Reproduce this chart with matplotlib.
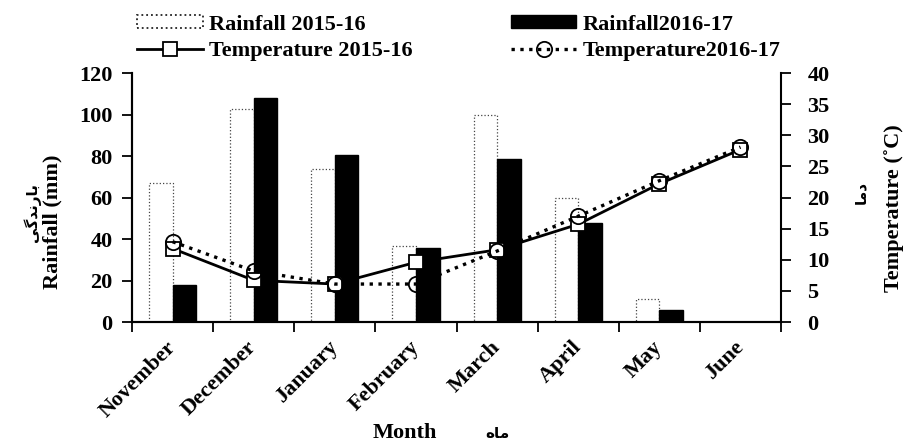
import numpy as np
import matplotlib.pyplot as plt
from matplotlib.patches import Patch
from matplotlib.lines import Line2D

plt.rcParams['font.family'] = ['Liberation Serif', 'DejaVu Serif']
plt.rcParams['font.weight'] = 'bold'

months = ['November', 'December', 'January', 'February', 'March', 'April', 'May', 'June']
rain_1516 = [67, 102.5, 73.5, 36.5, 100, 60, 11, 0]
rain_1617 = [18, 108, 80.5, 35.5, 78.5, 47.5, 6, 0]
temp_1516 = [11.8, 6.7, 6.1, 9.6, 11.6, 15.7, 22.2, 27.7]
temp_1617 = [12.9, 8.2, 6.1, 6.1, 11.4, 17.0, 22.7, 28.1]

# Persian labels written in contextual (presentation) forms, visual order
fa_rain = '\ufbfd\ufb94\ufeaa\ufee7\ufead\ufe8e\ufe91'   # barandegi
fa_temp = '\ufe8e\ufee3\ufea9'                           # dama
fa_month = '\ufee9\ufe8e\ufee3'                          # mah

x = np.arange(len(months)) + 0.5
w = 0.29
fs = 16

fig = plt.figure(figsize=(9.08, 4.43), dpi=100)
ax = fig.add_axes([0.1454, 0.2731, 0.7148, 0.5621])
ax2 = ax.twinx()

ax.bar(x - w / 2, rain_1516, w, facecolor='white', edgecolor='#444444',
       linewidth=0.9, linestyle=':', zorder=2)
ax.bar(x + w / 2, rain_1617, w, facecolor='black', edgecolor='black', zorder=2)

ax2.plot(x, temp_1516, '-', color='black', lw=2, marker='s', ms=10,
         mfc='white', mec='black', mew=1.3, zorder=3)
ax2.plot(x, temp_1617, ':', color='black', lw=2.4, marker='o', ms=11,
         mfc='none', mec='black', mew=1.3, zorder=4)

ax.set_xlim(0, 8)
ax.set_ylim(0, 120)
ax.set_yticks(np.arange(0, 121, 20))
ax2.set_ylim(0, 40)
ax2.set_yticks(np.arange(0, 41, 5))

ax.set_xticks(x)
ax.set_xticklabels(months, rotation=45, ha='right', va='center', rotation_mode='anchor')
ax.set_xticks(np.arange(0, 9), minor=True)
ax.tick_params(axis='x', which='major', length=0, pad=16, labelsize=fs)
ax.tick_params(axis='x', which='minor', length=7, width=1.3, direction='out')
ax.tick_params(axis='y', length=7, width=1.3, direction='out', labelsize=fs, pad=7)
ax2.tick_params(axis='y', length=7, width=1.3, direction='out', labelsize=fs, pad=12)

for a in (ax, ax2):
    a.spines['top'].set_visible(False)
    for s in ('left', 'right', 'bottom'):
        a.spines[s].set_linewidth(1.5)
ax.spines['right'].set_visible(False)

# axis titles
fig.text(0.058, 0.50, 'Rainfall (mm)', rotation=90, ha='center', va='center', fontsize=fs)
fig.text(0.035, 0.52, fa_rain, rotation=90, ha='center', va='center', fontsize=11,
         family=['DejaVu Sans'])
fig.text(0.985, 0.53, 'Temperature (\u02daC)', rotation=90, ha='center', va='center', fontsize=fs)
fig.text(0.948, 0.565, fa_temp, rotation=90, ha='center', va='center', fontsize=11,
         family=['DejaVu Sans'])
fig.text(0.446, 0.022, 'Month', ha='center', va='center', fontsize=fs)
fig.text(0.548, 0.022, fa_month, ha='center', va='center', fontsize=11,
         family=['DejaVu Sans'])

handles = [
    Patch(facecolor='white', edgecolor='#222222', linestyle=':', linewidth=1.3),
    Line2D([], [], color='black', lw=2, marker='s', ms=10, mfc='white', mec='black', mew=1.3),
    Patch(facecolor='black', edgecolor='black'),
    Line2D([], [], color='black', lw=2.4, ls=':', marker='o', ms=11, mfc='none', mec='black', mew=1.3),
]
labels = ['Rainfall 2015-16', 'Temperature 2015-16', 'Rainfall2016-17', 'Temperature2016-17']
fig.legend(handles, labels, ncol=2, loc='upper left', bbox_to_anchor=(0.151, 0.967),
           frameon=False, fontsize=fs, handlelength=2.95, handleheight=0.5,
           columnspacing=4.4, handletextpad=0.3, labelspacing=0.29,
           borderpad=0, borderaxespad=0)

fig.savefig('out.png', dpi=100)
